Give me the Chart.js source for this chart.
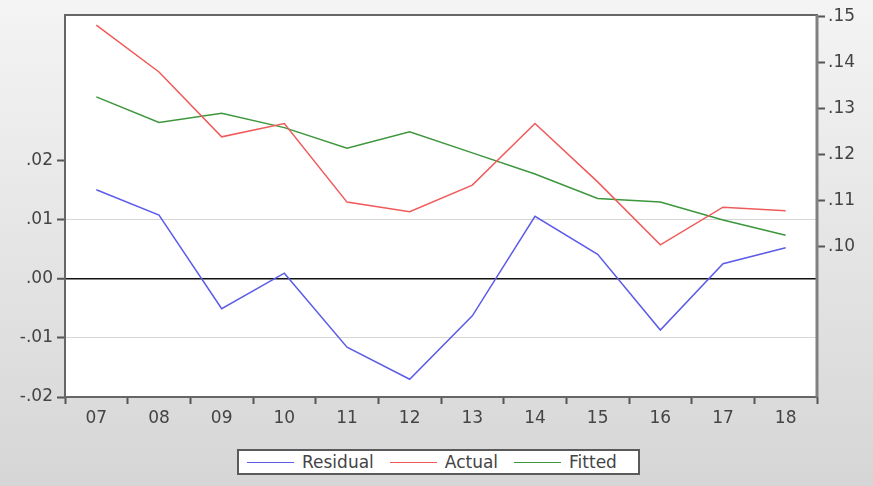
<!DOCTYPE html>
<html>
<head>
<meta charset="utf-8">
<script src="https://cdn.jsdelivr.net/npm/chart.js@4.4.1/dist/chart.umd.min.js"></script>
<style>
  html, body { margin: 0; padding: 0; }
  #wrap {
    position: relative; width: 873px; height: 486px; overflow: hidden;
    background: linear-gradient(#f4f4f4, #d6d6d6);
    font-family: "DejaVu Sans", sans-serif;
  }
  #chart { position: absolute; left: 0; top: 0; }
  #legend {
    position: absolute; left: 237px; top: 449px; width: 391px; height: 22px;
    padding-left: 8px;
    background: #fff; border: 2px solid #5a5a5a;
    display: flex; align-items: center; justify-content: flex-start;
    font-size: 17px; color: #444;
  }
  #legend .item { display: flex; align-items: center; margin-right: 16px; }
  #legend .swatch { width: 47px; height: 0; border-top: 1.5px solid; margin-right: 8px; }
</style>
</head>
<body>
<div id="wrap">
  <canvas id="chart" width="873" height="486"></canvas>
  <div id="legend"></div>
</div>
<script>
// categories (years)
const years = ["07", "08", "09", "10", "11", "12", "13", "14", "15", "16", "17", "18"];

// series
const residual = [0.0150, 0.0107, -0.0051, 0.0009, -0.0116, -0.0170, -0.0063, 0.0105, 0.0041, -0.0087, 0.0025, 0.0052];
const actual   = [0.1482, 0.1380, 0.1239, 0.1268, 0.1097, 0.1076, 0.1134, 0.1268, 0.1141, 0.1004, 0.1086, 0.1078];
const fitted   = [0.1326, 0.1270, 0.1290, 0.1259, 0.1214, 0.1250, 0.1204, 0.1158, 0.1105, 0.1097, 0.1058, 0.1025];

// tick labels on each value axis
const leftTicks  = [-0.02, -0.01, 0.00, 0.01, 0.02];
const rightTicks = [0.10, 0.11, 0.12, 0.13, 0.14, 0.15];

const seriesNames  = ["Residual", "Actual", "Fitted"];
const seriesColors = ["#5c5ce8", "#f05a5a", "#3c963c"];

// eviews style numbers: .02, -.01
function fmt(v) {
  const s = Math.abs(v).toFixed(2).replace(/^0/, "");
  return (v < -1e-9 ? "-" : "") + s;
}

const frame = {
  id: "frame",
  beforeDraw(chart) {
    const a = chart.chartArea, ctx = chart.ctx;
    ctx.save();
    ctx.fillStyle = "#fff";
    ctx.fillRect(a.left, a.top, a.right - a.left, a.bottom - a.top);
    ctx.restore();
  },
  beforeDatasetsDraw(chart) {
    const a = chart.chartArea, ctx = chart.ctx;
    ctx.save();
    ctx.strokeStyle = "#666";
    ctx.lineWidth = 2;
    ctx.strokeRect(a.left, a.top, a.right - a.left, a.bottom - a.top);
    // right axis line is a bit heavier
    ctx.strokeStyle = "#808080";
    ctx.lineWidth = 3;
    ctx.beginPath();
    ctx.moveTo(a.right, a.top);
    ctx.lineTo(a.right, a.bottom);
    ctx.stroke();
    ctx.restore();
  }
};

const tickFont = { family: "DejaVu Sans", size: 17 };

new Chart(document.getElementById("chart"), {
  type: "line",
  data: {
    labels: years,
    datasets: [
      { label: seriesNames[0], data: residual, yAxisID: "yL", borderColor: seriesColors[0] },
      { label: seriesNames[1], data: actual,   yAxisID: "yR", borderColor: seriesColors[1] },
      { label: seriesNames[2], data: fitted,   yAxisID: "yR", borderColor: seriesColors[2] }
    ]
  },
  options: {
    responsive: false,
    animation: false,
    layout: { padding: { top: 15, left: 0, right: 0, bottom: 0 } },
    elements: {
      line: { borderWidth: 1.5, tension: 0 },
      point: { radius: 0 }
    },
    plugins: { legend: { display: false }, tooltip: { enabled: false } },
    scales: {
      x: {
        offset: true,
        border: { display: false },
        grid: { offset: true, drawOnChartArea: false, tickLength: 7, tickColor: "#555", tickWidth: 2 },
        ticks: { font: tickFont, color: "#444", padding: 4, maxRotation: 0 },
        afterFit(s) { s.height = 89; }
      },
      yL: {
        position: "left",
        min: -0.02, max: 0.0445,
        border: { display: false },
        afterBuildTicks(s) { s.ticks = leftTicks.map(v => ({ value: v })); },
        grid: {
          tickLength: 8, tickColor: "#555", tickWidth: 2,
          color(c) {
            const v = c.tick ? c.tick.value : null;
            if (v === null) return "rgba(0,0,0,0)";
            if (Math.abs(v) < 1e-9) return "#111";
            if (Math.abs(Math.abs(v) - 0.01) < 1e-9) return "#d6d6d6";
            return "rgba(0,0,0,0)";
          },
          lineWidth(c) { return c.tick && Math.abs(c.tick.value) < 1e-9 ? 1.5 : 1; }
        },
        ticks: { font: tickFont, color: "#444", padding: 4, callback: v => fmt(v) },
        afterFit(s) { s.width = 65; }
      },
      yR: {
        position: "right",
        min: 0.0673, max: 0.1504,
        border: { display: false },
        afterBuildTicks(s) { s.ticks = rightTicks.map(v => ({ value: v })); },
        grid: { drawOnChartArea: false, tickLength: 8, tickColor: "#555", tickWidth: 2 },
        ticks: { font: tickFont, color: "#444", padding: 3, callback: v => fmt(v) },
        afterFit(s) { s.width = 56; }
      }
    }
  },
  plugins: [frame]
});

// legend built from the series names
const legend = document.getElementById("legend");
seriesNames.forEach((name, i) => {
  const item = document.createElement("div");
  item.className = "item";
  item.innerHTML = `<span class="swatch" style="border-color:${seriesColors[i]}"></span><span>${name}</span>`;
  legend.appendChild(item);
});
</script>
</body>
</html>
